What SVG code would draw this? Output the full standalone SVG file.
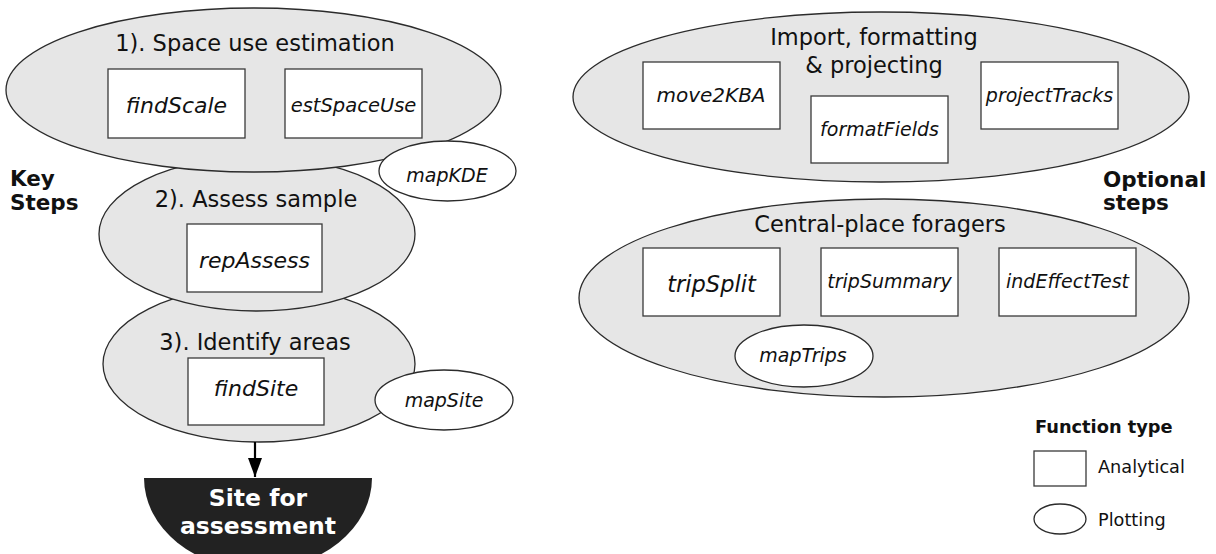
<svg xmlns="http://www.w3.org/2000/svg" width="1216" height="554" viewBox="0 0 1216 554">
<defs>
<style>
.grp{fill:#e6e6e6;stroke:#2b2b2b;stroke-width:1.3}
.box{fill:#ffffff;stroke:#3a3a3a;stroke-width:1.3}
.plot{fill:#ffffff;stroke:#2b2b2b;stroke-width:1.3}
text{font-family:"DejaVu Sans","Liberation Sans",sans-serif;fill:#111}
.t{font-size:22.5px;text-anchor:middle}
.fa{font-style:italic;text-anchor:middle}
.h{font-weight:bold;font-size:21.5px}
.lg{font-size:17.7px}
</style>
<marker id="ah" viewBox="0 0 19 14" refX="19" refY="7" markerWidth="19" markerHeight="14" markerUnits="userSpaceOnUse" orient="auto">
<path d="M0 0 L19 7 L0 14 Z" fill="#000"/>
</marker>
</defs>

<g id="labels">
<text class="h" x="10" y="186">Key</text>
<text class="h" x="10" y="210">Steps</text>
<text class="h" x="1103" y="187">Optional</text>
<text class="h" x="1103" y="210">steps</text>
</g>

<g id="step3">
<ellipse class="grp" cx="259" cy="364" rx="156" ry="78"/>
<text class="t" x="255" y="350">3). Identify areas</text>
</g>
<g id="step2">
<ellipse class="grp" cx="257" cy="234" rx="158" ry="77"/>
<text class="t" x="256" y="207">2). Assess sample</text>
</g>
<g id="step1">
<ellipse class="grp" cx="253.5" cy="90" rx="247.5" ry="82"/>
<text class="t" x="255" y="51">1). Space use estimation</text>
</g>

<g id="findScale">
<rect class="box" x="108" y="69" width="137" height="69"/>
<text class="fa" x="176.5" y="113" font-size="22">findScale</text>
</g>
<g id="estSpaceUse">
<rect class="box" x="285" y="69" width="137" height="69"/>
<text class="fa" x="353.5" y="112" font-size="19.5">estSpaceUse</text>
</g>
<g id="mapKDE">
<ellipse class="plot" cx="447.5" cy="171" rx="68.5" ry="30"/>
<text class="fa" x="447" y="182" font-size="19">mapKDE</text>
</g>
<g id="repAssess">
<rect class="box" x="187" y="224" width="135" height="68"/>
<text class="fa" x="254.5" y="268" font-size="22">repAssess</text>
</g>
<g id="findSite">
<rect class="box" x="188" y="358" width="136" height="67"/>
<text class="fa" x="256" y="396" font-size="22">findSite</text>
</g>
<g id="mapSite">
<ellipse class="plot" cx="444" cy="400" rx="69" ry="30"/>
<text class="fa" x="444" y="407" font-size="19">mapSite</text>
</g>

<g id="connectors">
<line x1="255" y1="442" x2="255" y2="477" stroke="#000" stroke-width="2.2" marker-end="url(#ah)"/>
</g>

<g id="site">
<path d="M144 478 L372 478 A114 91.5 0 0 1 144 478 Z" fill="#222222"/>
<text x="258" y="506" font-size="23.5" font-weight="bold" text-anchor="middle" style="fill:#ffffff">Site for</text>
<text x="258" y="534" font-size="23.5" font-weight="bold" text-anchor="middle" style="fill:#ffffff">assessment</text>
</g>

<g id="import">
<ellipse class="grp" cx="881" cy="97" rx="308" ry="85"/>
<text class="t" x="874" y="45">Import, formatting</text>
<text class="t" x="874" y="73">&amp; projecting</text>
</g>
<g id="move2KBA">
<rect class="box" x="643" y="62" width="137" height="67"/>
<text class="fa" x="711" y="102" font-size="20">move2KBA</text>
</g>
<g id="formatFields">
<rect class="box" x="811" y="96" width="137" height="67"/>
<text class="fa" x="879.5" y="136" font-size="19">formatFields</text>
</g>
<g id="projectTracks">
<rect class="box" x="981" y="62" width="137" height="67"/>
<text class="fa" x="1049.5" y="102" font-size="19">projectTracks</text>
</g>

<g id="central">
<ellipse class="grp" cx="884" cy="298" rx="305" ry="99"/>
<text class="t" x="880" y="232">Central-place foragers</text>
</g>
<g id="tripSplit">
<rect class="box" x="643" y="248" width="137" height="68"/>
<text class="fa" x="711.5" y="292" font-size="22.5">tripSplit</text>
</g>
<g id="tripSummary">
<rect class="box" x="821" y="248" width="137" height="68"/>
<text class="fa" x="889.5" y="288" font-size="19">tripSummary</text>
</g>
<g id="indEffectTest">
<rect class="box" x="999" y="248" width="137" height="68"/>
<text class="fa" x="1067.5" y="288" font-size="19">indEffectTest</text>
</g>
<g id="mapTrips">
<ellipse class="plot" cx="804" cy="356" rx="69" ry="31"/>
<text class="fa" x="803" y="362" font-size="19">mapTrips</text>
</g>

<g id="legend">
<text x="1035" y="433" font-size="17.8" font-weight="bold">Function type</text>
<rect class="box" x="1034" y="451" width="52" height="35"/>
<text class="lg" x="1098" y="473">Analytical</text>
<ellipse class="plot" cx="1060" cy="519" rx="26" ry="15"/>
<text class="lg" x="1098" y="526">Plotting</text>
</g>
</svg>
